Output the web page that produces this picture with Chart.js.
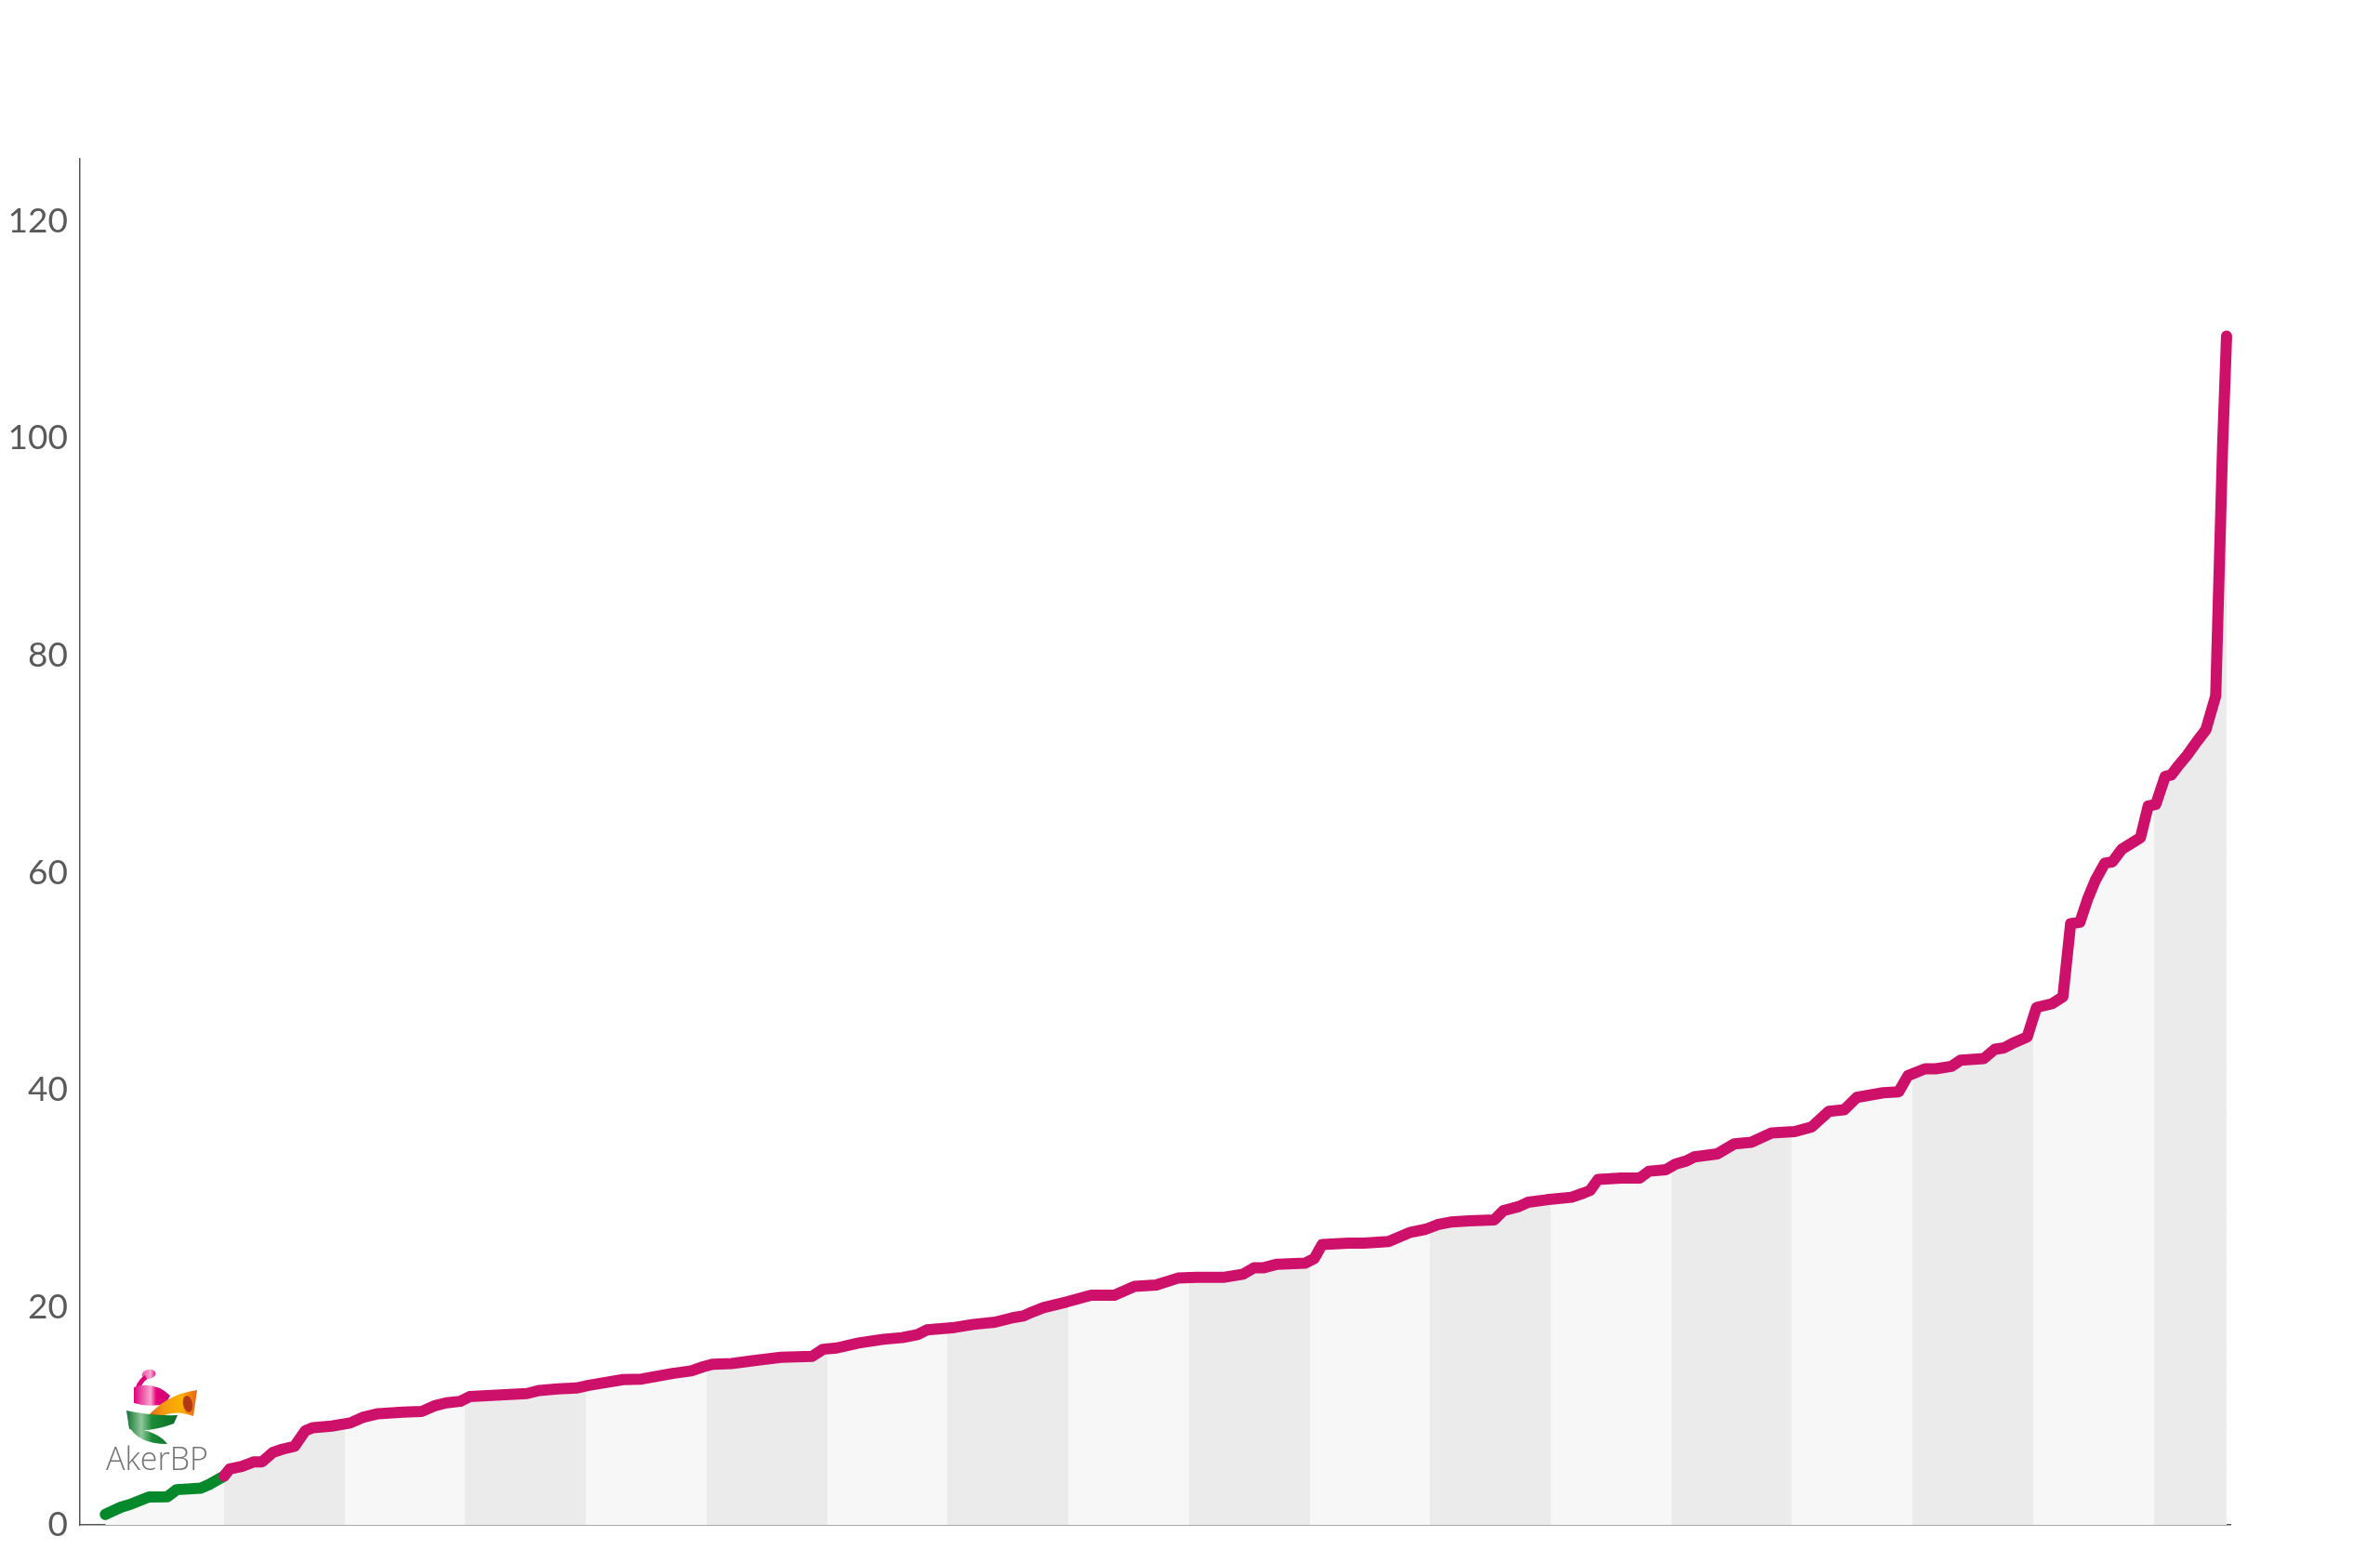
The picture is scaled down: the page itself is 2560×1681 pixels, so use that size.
<!DOCTYPE html>
<html>
<head>
<meta charset="utf-8">
<title>Breakeven curve</title>
<script src="https://cdn.jsdelivr.net/npm/chart.js@4.4.1/dist/chart.umd.min.js"></script>
<style>
  html, body { margin: 0; padding: 0; background: #fff; }
  canvas { display: block; }
</style>
</head>
<body>
<canvas id="curveChart" width="2560" height="1681"></canvas>
<script>
// Cumulative position of each project along the curve (one band = 10 units)
const xValues = [
  0.15, 1.44, 2.21, 3.76, 5.30, 6.07, 8.07, 8.77, 10.0,
  10.46, 11.47, 12.49, 13.14, 14.03, 14.80, 15.84, 16.73, 17.38, 18.92, 20.46, 21.49, 22.78, 24.83, 26.37,
  27.40, 28.43, 29.59, 30.36, 32.54, 35.11, 36.14, 37.68, 39.22,
  40.25, 43.08, 44.62, 47.19, 48.73, 49.77, 50.54, 52.08, 54.13, 56.19, 58.76, 59.66, 60.81, 62.61, 64.67,
  66.21, 67.50, 68.27, 70.58, 72.13, 73.92, 75.46, 76.24, 77.01,
  77.93, 79.84, 81.89, 83.82, 85.49, 87.29, 89.09, 90.63, 92.95, 94.49, 95.38, 96.15, 97.31, 99.62, 100.39,
  101.04, 103.22, 104.51, 106.56, 108.37, 109.65, 110.68, 111.70, 113.25, 115.31, 116.08,
  117.36, 118.13, 119.67, 121.73, 122.75, 123.27, 123.91, 125.84, 127.38, 128.15, 129.57, 130.34, 131.24,
  131.89, 133.81, 135.22, 136.63, 138.31, 140.23, 141.65, 143.06, 144.34, 145.38, 146.15, 147.56, 148.85,
  149.62, 151.03, 151.93, 153.21, 153.98,
  155.91, 156.82, 157.58, 158.49, 159.51, 160.28, 161.57, 162.47, 163.11, 163.88, 164.52, 165.16, 165.94,
  166.58, 167.35, 168.90, 169.54, 170.17, 170.95, 171.46, 172.00, 172.78, 173.55, 174.32, 175.14, 175.71, 176.04
];

// Breakeven value of each project
const yValues = [
  0.96, 1.63, 1.88, 2.57, 2.59, 3.24, 3.38, 3.72, 4.49,
  5.14, 5.38, 5.80, 5.80, 6.66, 6.95, 7.23, 8.66, 8.95, 9.09, 9.38, 9.89, 10.23, 10.38, 10.43,
  10.94, 11.23, 11.37, 11.80, 11.94, 12.09, 12.37, 12.52, 12.59,
  12.84, 13.37, 13.42, 13.94, 14.17, 14.57, 14.79, 14.85, 15.14, 15.43, 15.51, 16.16, 16.28, 16.74, 17.08,
  17.23, 17.51, 17.94, 18.17, 18.45, 18.65, 19.08, 19.22, 19.59,
  19.99, 20.51, 21.13, 21.13, 21.94, 22.07, 22.71, 22.79, 22.79, 23.07, 23.65, 23.65, 23.99, 24.08, 24.50,
  25.79, 25.92, 25.92, 26.07, 26.93, 27.21, 27.64, 27.87, 27.98, 28.07, 28.92,
  29.30, 29.69, 29.92, 30.15, 30.55, 30.78, 31.78, 31.92, 31.92, 32.55, 32.69, 33.20, 33.49,
  33.86, 34.14, 35.06, 35.21, 36.06, 36.20, 36.63, 38.06, 38.20, 39.34, 39.49, 39.77, 39.85,
  41.34, 41.97, 41.97, 42.19, 42.77,
  42.91, 43.77, 43.90, 44.42, 44.91, 47.62, 47.96, 48.61, 55.33, 55.46, 57.60, 59.32, 60.89,
  61.03, 62.17, 63.25, 66.16, 66.31, 68.88, 69.02, 69.82, 70.85, 72.05, 73.16, 76.30, 99.27, 109.40
];

// Y axis ticks
const yTicks = [0, 20, 40, 60, 80, 100, 120];

const bandWidth = 10;       // width of one shaded band on the x scale
const akerBpUntil = 10;     // Aker BP part of the curve ends here

const magenta = '#cd1069';
const green = '#06892a';
const bandLight = '#f7f7f7';
const bandDark = '#ebebeb';

// Alternating vertical bands under the curve
function bandFill(context) {
    const chart = context.chart;
    const xs = chart.scales && chart.scales.x;
    if (!chart.chartArea || !xs || xs.right === xs.left) return bandLight;
    const left = xs.left;
    const w = xs.right - left;
    const g = chart.ctx.createLinearGradient(left, 0, xs.right, 0);
    for (let b = 0; b * bandWidth < xs.max; b++) {
        const a = Math.max(0, Math.min(1, (xs.getPixelForValue(b * bandWidth) - left) / w));
        const e = Math.max(0, Math.min(1, (xs.getPixelForValue((b + 1) * bandWidth) - left) / w));
        const c = b % 2 ? bandDark : bandLight;
        if (b === 0) g.addColorStop(0, c);
        g.addColorStop(a, c);
        g.addColorStop(e, c);
    }
    return g;
}

// Aker BP logo, bottom left
const logoPlugin = {
    id: 'akerLogo',
    afterDatasetsDraw(chart) {
        const ctx = chart.ctx;
        ctx.save();

        // pink curl
        let g = ctx.createLinearGradient(144, 0, 184, 0);
        g.addColorStop(0, '#e0007a');
        g.addColorStop(0.45, '#f9a6cf');
        g.addColorStop(0.6, '#e6007e');
        g.addColorStop(1, '#c8006a');
        ctx.fillStyle = g;
        ctx.beginPath();
        ctx.ellipse(160, 1478, 7.5, 5, -0.2, 0, Math.PI * 2);
        ctx.fill();
        ctx.strokeStyle = '#e0007a';
        ctx.lineWidth = 5;
        ctx.beginPath();
        ctx.moveTo(157, 1481);
        ctx.quadraticCurveTo(147, 1488, 147, 1501);
        ctx.stroke();
        ctx.beginPath();
        ctx.moveTo(144, 1492);
        ctx.quadraticCurveTo(166, 1485, 183, 1501);
        ctx.lineTo(178, 1510);
        ctx.quadraticCurveTo(160, 1514, 144, 1509);
        ctx.closePath();
        ctx.fill();

        // orange ribbon
        g = ctx.createLinearGradient(156, 0, 212, 0);
        g.addColorStop(0, '#d8541a');
        g.addColorStop(0.35, '#f29a10');
        g.addColorStop(0.7, '#fbb000');
        g.addColorStop(1, '#e8601a');
        ctx.fillStyle = g;
        ctx.beginPath();
        ctx.moveTo(156, 1526);
        ctx.quadraticCurveTo(170, 1511, 181, 1505);
        ctx.quadraticCurveTo(196, 1497, 212, 1495);
        ctx.lineTo(208, 1523);
        ctx.quadraticCurveTo(192, 1517, 180, 1521);
        ctx.quadraticCurveTo(167, 1526, 156, 1526);
        ctx.closePath();
        ctx.fill();
        ctx.fillStyle = '#b23a12';
        ctx.beginPath();
        ctx.ellipse(202, 1510, 5, 9, -0.2, 0, Math.PI * 2);
        ctx.fill();

        // green ribbon
        g = ctx.createLinearGradient(135, 0, 192, 0);
        g.addColorStop(0, '#0b6e2a');
        g.addColorStop(0.3, '#8fc79a');
        g.addColorStop(0.5, '#1a8c36');
        g.addColorStop(1, '#0a6b28');
        ctx.fillStyle = g;
        ctx.beginPath();
        ctx.moveTo(136, 1517);
        ctx.quadraticCurveTo(162, 1523, 191, 1522);
        ctx.lineTo(187, 1531);
        ctx.quadraticCurveTo(162, 1541, 139, 1537);
        ctx.closePath();
        ctx.fill();
        ctx.beginPath();
        ctx.moveTo(138, 1532);
        ctx.quadraticCurveTo(147, 1553, 180, 1553);
        ctx.quadraticCurveTo(171, 1541, 150, 1537);
        ctx.closePath();
        ctx.fill();

        // name
        ctx.fillStyle = '#737373';
        ctx.font = '300 34px "Open Sans"';
        ctx.textAlign = 'left';
        ctx.textBaseline = 'alphabetic';
        ctx.fillText('AkerBP', 114, 1581);

        ctx.restore();
    }
};

Chart.defaults.font.family = 'Lato';

const points = xValues.map((x, i) => ({ x: x, y: yValues[i] }));

new Chart(document.getElementById('curveChart').getContext('2d'), {
    type: 'line',
    data: {
        datasets: [{
            label: 'Breakeven',
            data: points,
            borderColor: magenta,
            borderWidth: 12,
            borderJoinStyle: 'round',
            borderCapStyle: 'round',
            backgroundColor: bandFill,
            fill: 'origin',
            tension: 0,
            pointRadius: 0,
            pointHoverRadius: 0,
            clip: false,
            segment: {
                borderColor: ctx => ctx.p1.parsed.x <= akerBpUntil ? green : magenta
            }
        }]
    },
    options: {
        responsive: false,
        animation: false,
        devicePixelRatio: 1,
        events: [],
        layout: {
            padding: { top: 171, right: 161, bottom: 41, left: 0 }
        },
        plugins: {
            legend: { display: false },
            tooltip: { enabled: false }
        },
        scales: {
            x: {
                type: 'linear',
                min: -1.95,
                max: 176.35,
                grid: { display: false, drawTicks: false },
                ticks: { display: false },
                border: { display: true, color: '#555555', width: 1.5 },
                afterFit: scale => { scale.height = 0; }
            },
            y: {
                min: 0,
                max: 125.7,
                grid: { display: false, drawTicks: false },
                border: { display: true, color: '#555555', width: 1.5 },
                ticks: {
                    stepSize: 20,
                    padding: 13,
                    color: '#5a5a5a',
                    font: { family: 'Lato', size: 37 }
                },
                afterBuildTicks: scale => {
                    scale.ticks = yTicks.map(v => ({ value: v }));
                },
                afterFit: scale => { scale.width = 86; }
            }
        }
    },
    plugins: [logoPlugin]
});
</script>
</body>
</html>
